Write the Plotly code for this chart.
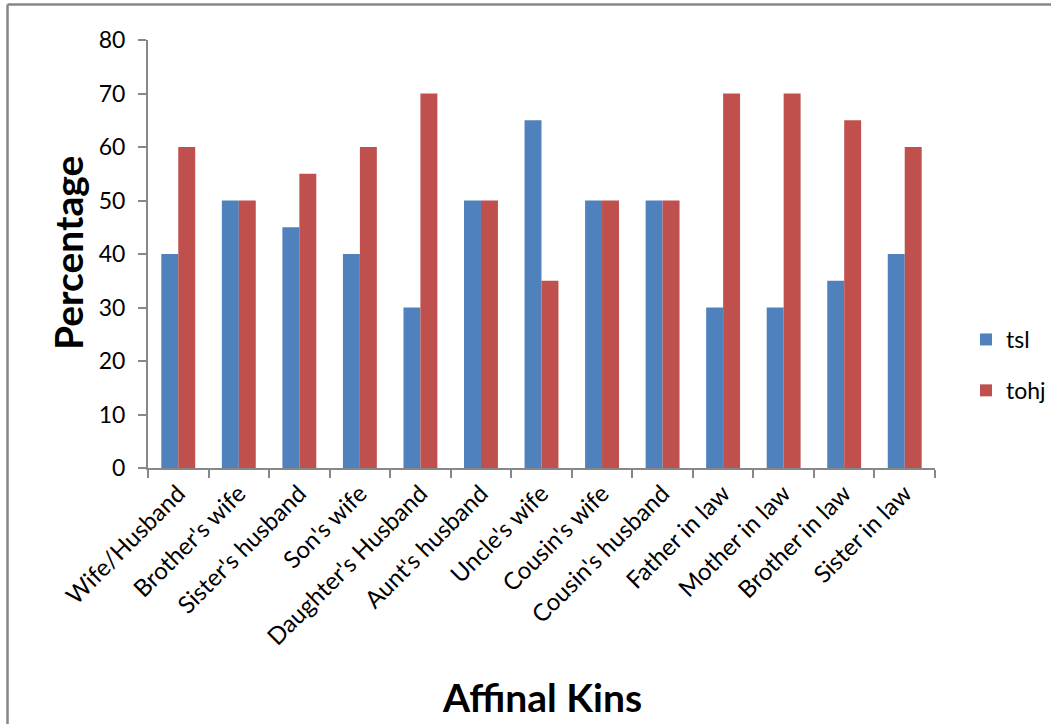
import plotly.graph_objects as go

categories = ["Wife/Husband", "Brother's wife", "Sister's husband", "Son's wife",
              "Daughter's Husband", "Aunt's husband", "Uncle's wife", "Cousin's wife",
              "Cousin's husband", "Father in law", "Mother in law", "Brother in law",
              "Sister in law"]
tsl = [40, 50, 45, 40, 30, 50, 65, 50, 50, 30, 30, 35, 40]
tohj = [60, 50, 55, 60, 70, 50, 35, 50, 50, 70, 70, 65, 60]

FONT = "Lato, Open Sans, sans-serif"
AXIS_GREY = "#878787"
W, H = 1051, 724

# plot area in pixels: x 148..935, y 40..468
PX_L, PX_W, PX_B, PX_H = 148, 787, 468, 428


def px_x(px):
    return (px - PX_L) / PX_W


def px_y(py):
    return (PX_B - py) / PX_H


fig = go.Figure()
fig.add_trace(go.Bar(x=categories, y=tsl, name="tsl", marker_color="#4F81BD",
                     marker_line_width=0, legendgroup="a"))
fig.add_trace(go.Bar(x=categories, y=tohj, name="tohj", marker_color="#C0504D",
                     marker_line_width=0, legendgroup="b"))

fig.update_layout(
    width=W, height=H,
    margin=dict(l=148, r=116, t=40, b=256, autoexpand=False),
    paper_bgcolor="white", plot_bgcolor="white",
    barmode="group", bargap=0.44, bargroupgap=0,
    font=dict(family=FONT, color="black"),
    legend=dict(xref="container", yref="container",
                x=966 / W, y=1 - 365 / H, yanchor="middle", xanchor="left",
                font=dict(size=23), tracegroupgap=18, itemwidth=30),
    xaxis=dict(
        showline=True, linecolor=AXIS_GREY, linewidth=2,
        ticks="outside", tickson="boundaries", ticklen=8, tickcolor=AXIS_GREY, tickwidth=2,
        tickangle=-45, tickfont=dict(size=24), automargin=False,
        showgrid=False,
    ),
    yaxis=dict(
        range=[0, 80], dtick=10,
        showline=True, linecolor=AXIS_GREY, linewidth=2,
        ticks="outside", ticklen=8, tickcolor=AXIS_GREY, tickwidth=2,
        tickfont=dict(size=23), ticklabelstandoff=8, automargin=False,
        showgrid=False, zeroline=False,
    ),
    annotations=[
        dict(text="<b>Percentage</b>", xref="paper", yref="paper",
             x=px_x(68), y=px_y(253), xanchor="center", yanchor="middle",
             textangle=-90, showarrow=False, font=dict(size=39)),
        dict(text="<b>Affinal Kins</b>", xref="paper", yref="paper",
             x=px_x(542), y=px_y(697), xanchor="center", yanchor="middle",
             showarrow=False, font=dict(size=39)),
    ],
    shapes=[
        dict(type="line", xref="paper", yref="paper",
             x0=px_x(7.5), x1=1.2, y0=px_y(4.5), y1=px_y(4.5),
             line=dict(color=AXIS_GREY, width=2.5)),
        dict(type="line", xref="paper", yref="paper",
             x0=px_x(7.5), x1=px_x(7.5), y0=px_y(4.5), y1=-0.7,
             line=dict(color=AXIS_GREY, width=2.5)),
    ],
)

fig.write_html("out.html")
